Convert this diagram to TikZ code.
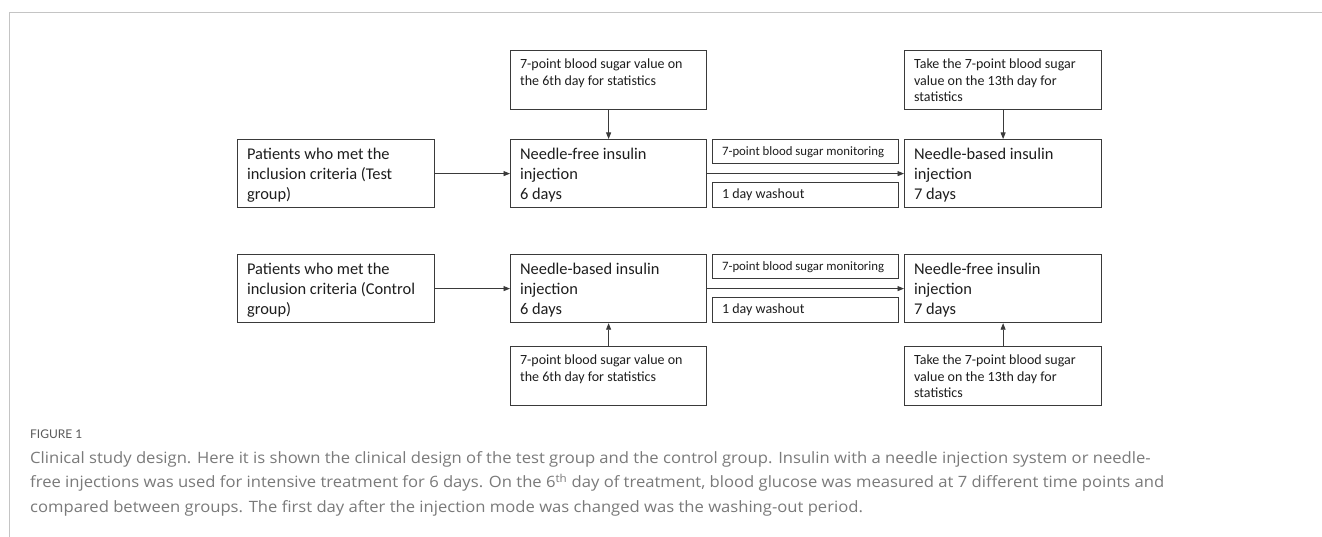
\documentclass[tikz,border=0pt]{standalone}
\usepackage{fontspec}
\setmainfont{Carlito}
\newfontfamily\capfont{Open Sans}[FakeStretch=1.065]
\newfontfamily\figfont{Lato}
\usetikzlibrary{arrows.meta}
\definecolor{framec}{HTML}{C4C4C4}
\definecolor{boxc}{HTML}{3A3A3A}
\definecolor{txtc}{HTML}{1E1E1E}
\definecolor{capc}{HTML}{7A7A7A}
\definecolor{figc}{HTML}{5A5A5A}
% width, height, first baseline, size, skip, text
\newcommand{\bxt}[6]{\parbox[c][#2][t]{#1}{\fontsize{#4}{#5}\selectfont\raggedright\rule{0pt}{#3}#6}}
\begin{document}
\begin{tikzpicture}[x=1pt,y=-1pt,
  bx/.style={draw=boxc, line width=1.2pt, inner xsep=9.5pt, inner ysep=0pt, anchor=north west, text=txtc},
  conn/.style={draw=boxc, line width=0.8pt, -{Triangle[length=6.5pt,width=5pt]}},
  framel/.style={draw=framec, line width=1pt}]
\useasboundingbox[fill=white] (0,0) rectangle (1322,537);
% frame
\draw[framel] (9,537) -- (9,12.5) -- (1322,12.5);
% ---- Test group row
\node[bx] (pa) at (237,139) {\bxt{178pt}{68pt}{20pt}{16.4pt}{20pt}{Patients who met the\\inclusion criteria (Test\\group)}};
\node[bx] (nf) at (510,139) {\bxt{177pt}{68pt}{20pt}{16.4pt}{20pt}{Needle-free insulin\\injection\\6 days}};
\node[bx] (s1) at (510,50) {\bxt{177pt}{59pt}{18.3pt}{14pt}{16.5pt}{7-point blood sugar value on\\the 6th day for statistics}};
\node[bx] (m1) at (712,139) {\bxt{167pt}{24pt}{16pt}{12.8pt}{15pt}{7-point blood sugar monitoring}};
\node[bx] (w1) at (712,181.7) {\bxt{167pt}{25.3pt}{16.6pt}{14pt}{16pt}{1 day washout}};
\node[bx] (nb) at (904,139) {\bxt{178pt}{68pt}{20pt}{16.4pt}{20pt}{Needle-based insulin\\injection\\7 days}};
\node[bx] (s2) at (904,50) {\bxt{178pt}{59pt}{18.3pt}{14pt}{16.5pt}{Take the 7-point blood sugar\\value on the 13th day for\\statistics}};
\draw[conn] (pa) -- (nf);
\draw[conn] (nf) -- (nb);
\draw[conn] (s1) -- (nf);
\draw[conn] (s2) -- (nb);
% ---- Control group row
\node[bx] (pb) at (237,254) {\bxt{178pt}{68pt}{20pt}{16.4pt}{20pt}{Patients who met the\\inclusion criteria (Control\\group)}};
\node[bx] (nb2) at (510,254) {\bxt{177pt}{68pt}{20pt}{16.4pt}{20pt}{Needle-based insulin\\injection\\6 days}};
\node[bx] (s3) at (510,346) {\bxt{177pt}{59pt}{18pt}{14pt}{16.5pt}{7-point blood sugar value on\\the 6th day for statistics}};
\node[bx] (m2) at (712,254) {\bxt{167pt}{24pt}{16pt}{12.8pt}{15pt}{7-point blood sugar monitoring}};
\node[bx] (w2) at (712,296.7) {\bxt{167pt}{25.3pt}{16.6pt}{14pt}{16pt}{1 day washout}};
\node[bx] (nf2) at (904,254) {\bxt{178pt}{68pt}{20pt}{16.4pt}{20pt}{Needle-free insulin\\injection\\7 days}};
\node[bx] (s4) at (904,346) {\bxt{178pt}{59pt}{18pt}{14pt}{16.5pt}{Take the 7-point blood sugar\\value on the 13th day for\\statistics}};
\draw[conn] (pb) -- (nb2);
\draw[conn] (nb2) -- (nf2);
\draw[conn] (s3) -- (nb2);
\draw[conn] (s4) -- (nf2);
% ---- caption
\node[anchor=base west, inner sep=0pt, text=figc] (fig) at (30,438.3) {\figfont\fontsize{12pt}{12pt}\selectfont FIGURE 1};
\node[anchor=base west, inner sep=0pt, text=capc] (cap) at (30,463.3) {\parbox[t]{1290pt}{\capfont\fontsize{15.6pt}{24.5pt}\selectfont\raggedright
Clinical study design. Here it is shown the clinical design of the test group and the control group. Insulin with a needle injection system or needle-\\
free injections was used for intensive treatment for 6 days. On the 6\textsuperscript{th} day of treatment, blood glucose was measured at 7 different time points and\\
compared between groups. The first day after the injection mode was changed was the washing-out period.}};
\end{tikzpicture}
\end{document}
